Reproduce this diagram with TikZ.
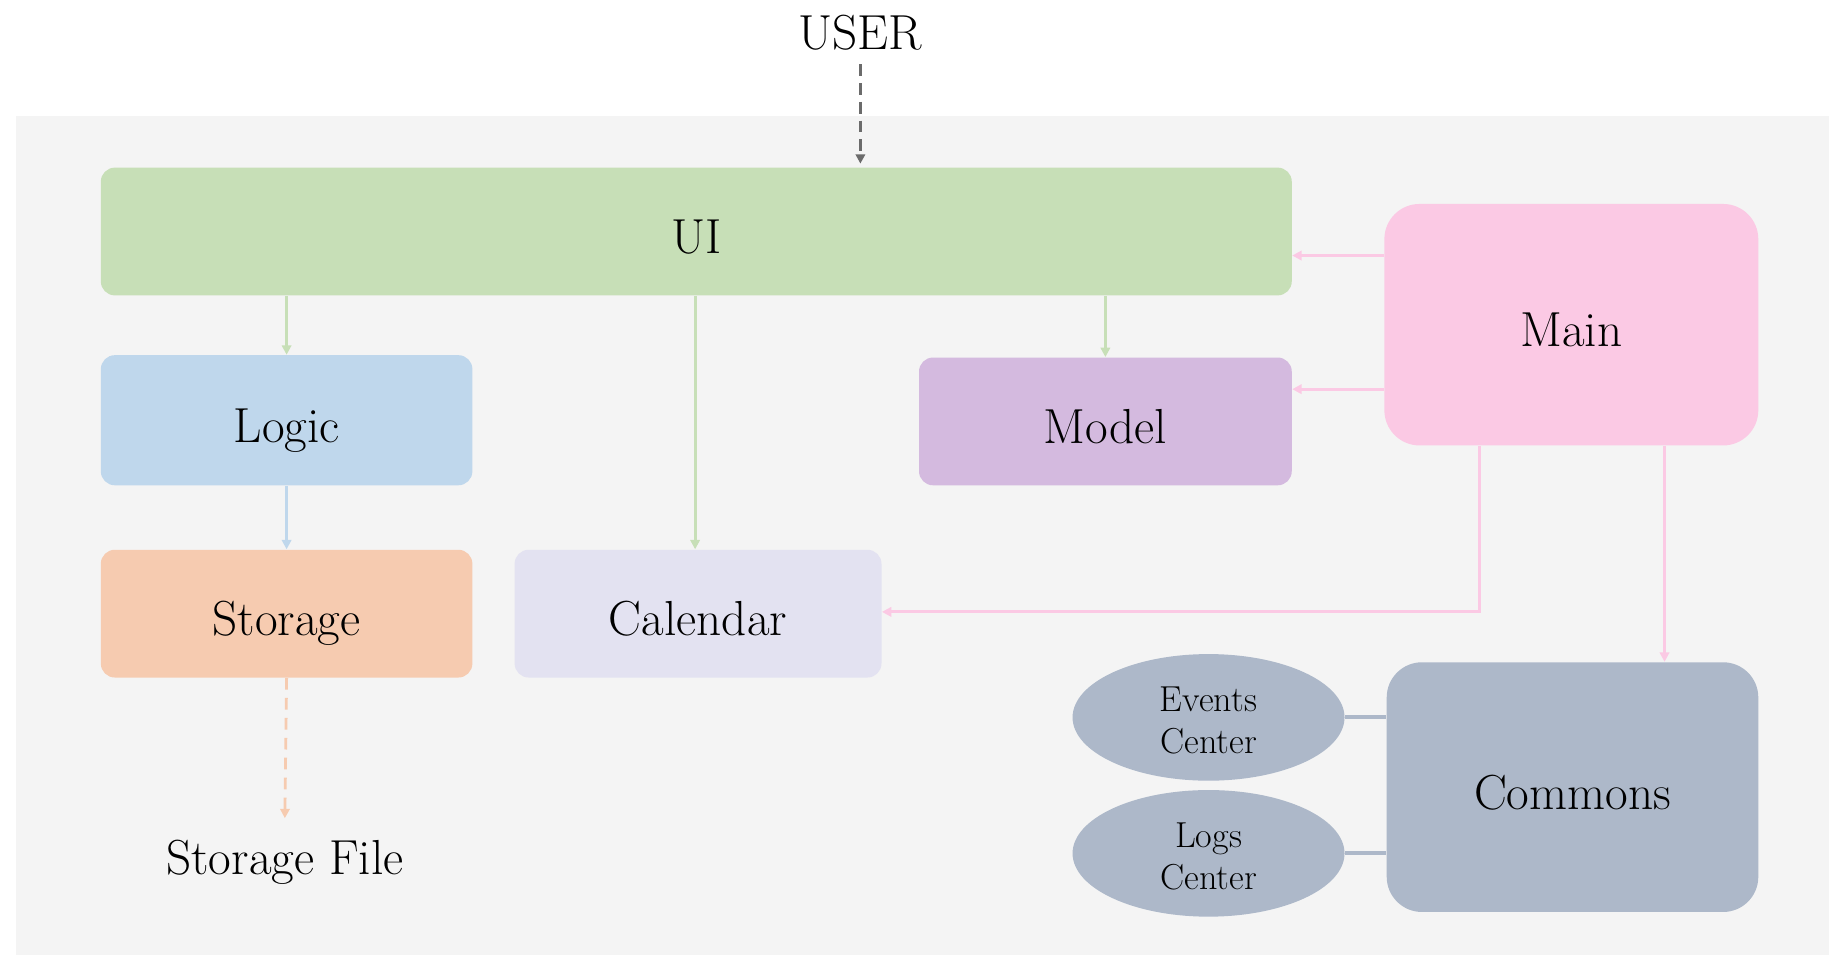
\documentclass[tikz,border=0pt]{standalone}
\usetikzlibrary{arrows.meta,shapes.geometric}
\definecolor{bggray}{HTML}{F4F4F4}
\definecolor{uigreen}{HTML}{C7DFB7}
\definecolor{mainpink}{HTML}{FBC9E4}
\definecolor{logicblue}{HTML}{BFD7EC}
\definecolor{modelpurple}{HTML}{D4BADF}
\definecolor{storagepeach}{HTML}{F6CBB0}
\definecolor{calendarlav}{HTML}{E3E2F1}
\definecolor{commonsgray}{HTML}{ADB8C9}
\definecolor{usergray}{HTML}{6B6B6B}
\newcommand{\ovalstrut}{\rule{0pt}{13.1pt}}
\begin{document}
\begin{tikzpicture}[x=0.5pt,y=-0.5pt,
  bigfont/.style={font=\fontsize{21}{25}\selectfont},
  box/.style={rectangle, rounded corners=6pt, inner sep=0pt, draw=none,
    bigfont, text height=19pt, text depth=0pt},
  bigbox/.style={box, rounded corners=15pt},
  oval/.style={ellipse, inner sep=0pt, fill=commonsgray, align=center,
    font=\fontsize{15.4}{17.6}\selectfont},
  tipstyle/.style={-{Triangle[length=4pt,width=4pt]}},
  conn/.style={tipstyle, line width=1.2pt},
  plain/.style={line width=1.8pt, draw=commonsgray}
]
\useasboundingbox (0,0) rectangle (1568,828);
\fill[white] (0,0) rectangle (1568,828);
\fill[bggray] (14,99) rectangle (1560,815);

\node[bigfont, inner sep=0pt] (USER) at (734,28) {USER};
\node[box, fill=uigreen, minimum width=508pt, minimum height=54.5pt] (UI) at (594,197.5) {UI};
\node[bigbox, fill=mainpink, minimum width=159.5pt, minimum height=103pt] (Main) at (1340.5,277) {Main};
\node[box, fill=logicblue, minimum width=158.5pt, minimum height=55.5pt] (Logic) at (244.5,358.5) {Logic};
\node[box, fill=modelpurple, minimum width=159pt, minimum height=54.5pt] (Model) at (943,359.5) {Model};
\node[box, fill=storagepeach, minimum width=158.5pt, minimum height=54.5pt] (Storage) at (244.5,523.5) {Storage};
\node[box, fill=calendarlav, minimum width=156.5pt, minimum height=54.5pt] (Calendar) at (595.5,523.5) {Calendar};
\node[bigbox, fill=commonsgray, minimum width=158.5pt, minimum height=106.5pt] (Commons) at (1341.5,671.5) {Commons};
\node[oval, minimum width=116pt, minimum height=54pt] (Events) at (1031,612) {\ovalstrut Events\\Center};
\node[oval, minimum width=116pt, minimum height=54pt] (Logs) at (1031,728) {\ovalstrut Logs\\Center};
\node[bigfont, inner sep=0pt, anchor=base] (SF) at (243,746) {Storage File};

% USER -> UI
\draw[conn, usergray, dash pattern=on 5pt off 3pt] ([yshift=-13.5pt]USER.center) -- ([yshift=1.5pt]UI.north -| USER.center);
% UI -> Logic, Calendar, Model
\draw[conn, uigreen] (UI.south -| Logic.center) -- (Logic.north);
\draw[conn, uigreen] ([xshift=-1.25pt]UI.south -| Calendar.center) -- ([xshift=-1.25pt]Calendar.north);
\draw[conn, uigreen] (UI.south -| Model.center) -- (Model.north);
% Logic -> Storage
\draw[conn, logicblue] (Logic.south) -- (Storage.north);
% Storage -> Storage File
\draw[conn, storagepeach, dash pattern=on 5pt off 3.5pt] (Storage.south) -- ([yshift=24pt]SF.base);
% Main -> UI, Model
\draw[conn, mainpink] ([yshift=29.5pt]Main.west) -- ([yshift=29.5pt]Main.west -| UI.east);
\draw[conn, mainpink] ([yshift=-27.5pt]Main.west) -- ([yshift=-27.5pt]Main.west -| Model.east);
% Main -> Calendar
\draw[conn, mainpink] ([xshift=-39.25pt]Main.south) |- ([yshift=0.75pt]Calendar.east);
% Main -> Commons
\draw[conn, mainpink] ([xshift=39.75pt]Main.south) -- ([xshift=39.75pt]Main.south |- Commons.north);
% Centers -- Commons
\draw[plain] (Events.east) -- (Events.east -| Commons.west);
\draw[plain] (Logs.east) -- (Logs.east -| Commons.west);
\end{tikzpicture}
\end{document}
